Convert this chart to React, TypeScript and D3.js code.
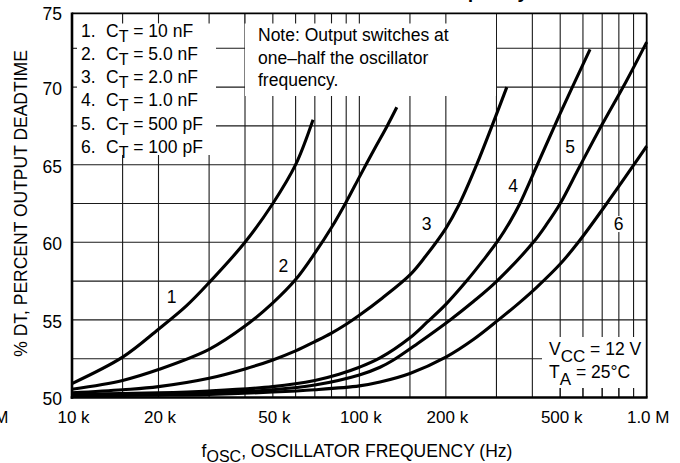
import React from 'react';
import * as d3 from 'd3';

const W = 680;
const H = 463;

// ---- axis / grid values ----
const freqTicks = [10, 20, 50, 100, 200, 500, 1000]; // kHz
const freqTickLabels = ['10 k', '20 k', '50 k', '100 k', '200 k', '500 k', '1.0 M'];
const freqGrid = [15, 20, 30, 40, 50, 60, 70, 80, 90, 100, 150, 200, 300, 400, 500, 600, 700, 800, 900];
const dtTicks = [50, 55, 60, 65, 70, 75];
const dtGrid = [52.5, 55, 57.5, 60, 62.5, 65, 67.5, 70, 72.5];

// ---- legend ----
const capLabels = ['10 nF', '5.0 nF', '2.0 nF', '1.0 nF', '500 pF', '100 pF'];
const noteLines = ['Note: Output switches at', 'one\u2013half the oscillator', 'frequency.'];

// ---- series (f in kHz, % deadtime) ----
const f1 = [10, 15, 20, 25, 30, 40, 50, 60, 69];
const v1 = [50.9, 52.6, 54.4, 55.9, 57.4, 60.0, 62.5, 65.0, 67.9];

const f2 = [10, 15, 20, 30, 40, 50, 60, 70, 80, 90, 100, 112, 125, 135];
const v2 = [50.53, 51.1, 51.8, 53.1, 54.6, 56.1, 57.6, 59.3, 60.95, 62.6, 64.2, 65.9, 67.5, 68.7];

const f3 = [10, 15, 20, 30, 40, 50, 60, 70, 80, 90, 100, 120, 150, 170, 200, 222, 256, 326];
const v3 = [50.3, 50.5, 50.7, 51.24, 51.84, 52.42, 53.0, 53.6, 54.15, 54.72, 55.3, 56.4, 57.9, 59.1, 60.9, 62.4, 65.0, 70.0];

const f4 = [10, 20, 30, 50, 70, 85, 100, 118, 150, 172, 200, 236, 270, 305, 335, 361, 414, 500, 635];
const v4 = [50.2, 50.3, 50.42, 50.7, 51.1, 51.5, 51.95, 52.55, 53.85, 54.85, 56.0, 57.5, 58.85, 60.15, 61.35, 62.45, 64.9, 68.3, 72.43];

const f5 = [10, 20, 30, 50, 70, 100, 118, 131, 160, 207, 250, 301, 403, 450, 500, 585, 700, 850, 1000];
const v5 = [50.15, 50.22, 50.3, 50.5, 50.8, 51.45, 51.95, 52.4, 53.5, 55.0, 56.2, 57.5, 60.0, 61.2, 62.5, 64.9, 67.6, 70.4, 72.9];

const f6 = [10, 20, 30, 50, 70, 100, 118, 150, 200, 250, 305, 360, 414, 500, 578, 726, 899, 1000];
const v6 = [50.1, 50.15, 50.2, 50.35, 50.5, 50.75, 51.0, 51.55, 52.6, 53.75, 55.0, 56.1, 57.1, 58.6, 60.0, 62.5, 64.95, 66.2];

const seriesF = [f1, f2, f3, f4, f5, f6];
const seriesV = [v1, v2, v3, v4, v5, v6];

// curve number labels (f kHz, % at baseline)
const curveLabelF = [22.2, 54.4, 171.6, 343, 541, 798];
const curveLabelV = [56.09, 58.1, 60.79, 63.26, 65.73, 60.79];

const FONT = '"Liberation Sans", Arial, Helvetica, sans-serif';

export default function App() {
  const X = d3.scaleLog().domain([10, 1000]).range([72, 646.7]);
  const Y = d3.scaleLinear().domain([50, 75]).range([397.5, 9.5]);

  const left = X(10);
  const right = X(1000);
  const top = Y(74.75);
  const bottom = Y(50);

  // annotation boxes (white, hide grid)
  const legendBox = { x0: left, x1: 216, y0: top, y1: 155 };
  const noteBox = { x0: 245, x1: 496, y0: top, y1: 96 };
  const vccBox = { x0: 542, x1: right, y0: 337, y1: 388 };
  const boxes = [legendBox, noteBox, vccBox];

  const line = d3
    .line<[number, number]>()
    .x((d) => X(d[0]))
    .y((d) => Y(d[1]))
    .curve(d3.curveCatmullRom.alpha(0.5));

  const gridColor = '#1a1a1a';

  const topTicks = freqGrid.filter((f) => {
    const x = X(f);
    return (x > legendBox.x0 && x < legendBox.x1) || (x > noteBox.x0 && x < noteBox.x1);
  });
  const leftTicks = dtGrid.filter((v) => Y(v) > legendBox.y0 && Y(v) < legendBox.y1);
  const bottomTicks = freqGrid.filter((f) => X(f) > vccBox.x0 && X(f) < vccBox.x1);

  return (
    <svg
      width={W}
      height={H}
      style={{ position: 'absolute', left: 0, top: 0, background: '#fff' }}
      fontFamily={FONT}
    >
      <rect x={0} y={0} width={W} height={H} fill="#fff" />

      {/* clipped title from above */}
      <text x={528} y={-2} textAnchor="end" fontSize={19} fontWeight="bold" fill="#000">
        Percent Deadtime versus Oscillator Frequency
      </text>

      {/* clipped label from neighbouring chart */}
      <text x={8.5} y={423} textAnchor="end" fontSize={17} fill="#000">
        1.0 M
      </text>

      {/* grid */}
      <g stroke={gridColor} strokeWidth={1.1}>
        {freqGrid.map((f) => (
          <line key={'v' + f} x1={X(f)} x2={X(f)} y1={top} y2={bottom} />
        ))}
        {dtGrid.map((v) => (
          <line key={'h' + v} x1={left} x2={right} y1={Y(v)} y2={Y(v)} />
        ))}
      </g>

      {/* boxes */}
      {boxes.map((b, i) => (
        <rect key={i} x={b.x0} y={b.y0} width={b.x1 - b.x0} height={b.y1 - b.y0} fill="#fff" />
      ))}

      {/* ticks over boxes */}
      <g stroke={gridColor} strokeWidth={1.1}>
        {topTicks.map((f) => (
          <line key={'tt' + f} x1={X(f)} x2={X(f)} y1={top} y2={top + 10} />
        ))}
        {leftTicks.map((v) => (
          <line key={'lt' + v} x1={left} x2={left + 5} y1={Y(v)} y2={Y(v)} />
        ))}
        {bottomTicks.map((f) => (
          <line key={'bt' + f} x1={X(f)} x2={X(f)} y1={vccBox.y1} y2={bottom} />
        ))}
      </g>

      {/* curves */}
      <g fill="none" stroke="#000" strokeWidth={3.1} strokeLinejoin="round" strokeLinecap="butt">
        {seriesF.map((fs, i) => {
          const pts = fs.map((f, j) => [f, seriesV[i][j]] as [number, number]);
          return <path key={i} d={line(pts) || ''} />;
        })}
      </g>

      {/* curve labels */}
      {curveLabelF.map((f, i) => {
        const cx = X(f);
        const by = Y(curveLabelV[i]);
        return (
          <g key={'cl' + i}>
            <rect x={cx - 6} y={by - 14} width={12} height={16} fill="#fff" />
            <text x={cx} y={by} textAnchor="middle" fontSize={17.5} fill="#000">
              {String(i + 1)}
            </text>
          </g>
        );
      })}

      {/* frame */}
      <g stroke="#000" fill="none">
        <line x1={left} x2={right} y1={top} y2={top} strokeWidth={1.8} />
        <line x1={right} x2={right} y1={top} y2={bottom} strokeWidth={1.8} />
        <line x1={left} x2={left} y1={top - 0.9} y2={bottom + 1.2} strokeWidth={2.6} />
        <line x1={left - 1.3} x2={right + 0.9} y1={bottom} y2={bottom} strokeWidth={2.6} />
      </g>

      {/* legend */}
      <g fontSize={17.5} fill="#000">
        {capLabels.map((c, i) => {
          const by = 36.5 + i * 23.3;
          return (
            <g key={'lg' + i}>
              <text x={81} y={by}>{`${i + 1}.`}</text>
              <text x={106} y={by}>
                C<tspan dy={5} fontSize={16}>T</tspan>
                <tspan dy={-5}>{` = ${c}`}</tspan>
              </text>
            </g>
          );
        })}
      </g>

      {/* note */}
      <g fontSize={17.5} fill="#000">
        {noteLines.map((t, i) => (
          <text key={'n' + i} x={258} y={41 + i * 22.5}>
            {t}
          </text>
        ))}
      </g>

      {/* conditions */}
      <g fontSize={17.5} fill="#000">
        <text x={549} y={355}>
          V<tspan dy={6.5} fontSize={17}>CC</tspan>
          <tspan dy={-6.5}> = 12 V</tspan>
        </text>
        <text x={549} y={378}>
          T<tspan dy={7} fontSize={17}>A</tspan>
          <tspan dy={-7}> = 25°C</tspan>
        </text>
      </g>

      {/* y tick labels */}
      <g fontSize={17.5} fill="#000" textAnchor="end">
        {dtTicks.map((v) => (
          <text key={'yl' + v} x={62} y={v === 75 ? 20 : Y(v) + 7.8}>
            {String(v)}
          </text>
        ))}
      </g>

      {/* x tick labels */}
      <g fontSize={17} fill="#000" textAnchor="middle">
        {freqTicks.map((f, i) => (
          <text key={'xl' + f} x={X(f) + 1.5} y={423}>
            {freqTickLabels[i]}
          </text>
        ))}
      </g>

      {/* axis titles */}
      <text x={357} y={457} textAnchor="middle" fontSize={17.5} fill="#000">
        f<tspan dy={4.5} fontSize={16}>OSC</tspan>
        <tspan dy={-4.5}>, OSCILLATOR FREQUENCY (Hz)</tspan>
      </text>
      <text
        transform={`translate(26.5, ${203.5}) rotate(-90)`}
        textAnchor="middle"
        fontSize={17.5}
        fill="#000"
      >
        % DT, PERCENT OUTPUT DEADTIME
      </text>
    </svg>
  );
}
